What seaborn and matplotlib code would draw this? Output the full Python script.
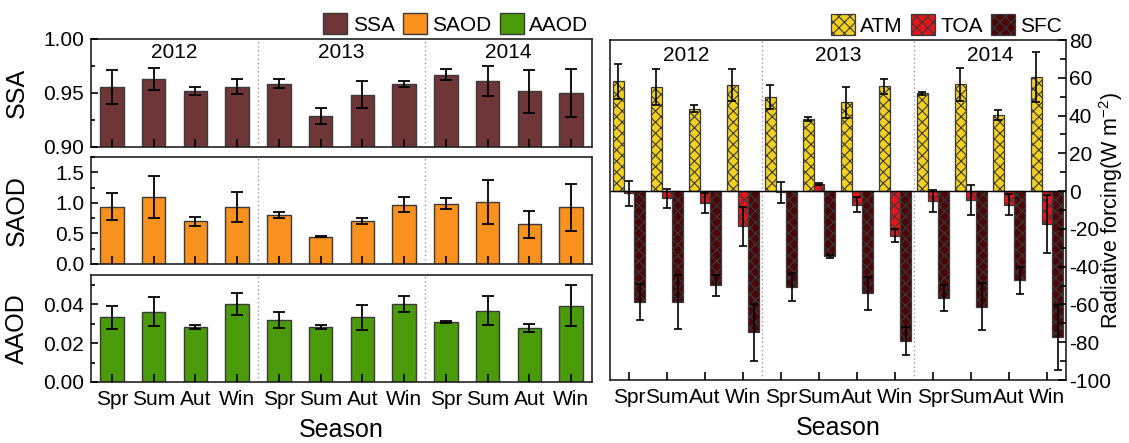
import numpy as np
import pandas as pd
import matplotlib
matplotlib.use("Agg")
import matplotlib.pyplot as plt
import matplotlib.transforms as mtransforms
from matplotlib.patches import Patch
from matplotlib.ticker import MultipleLocator, FormatStrFormatter
import seaborn as sns

# ---- seasonal aerosol optical properties (Spr/Sum/Aut/Win, 2012-2014) ----
years = ["2012", "2013", "2014"]
seasons = ["Spr", "Sum", "Aut", "Win"]

ssa = [0.9556, 0.9627, 0.9515, 0.9559, 0.9586, 0.9284, 0.9485, 0.9583, 0.9670, 0.9608, 0.9515, 0.9500]
ssa_err = [0.016, 0.010, 0.0037, 0.0068, 0.0043, 0.0074, 0.0125, 0.0032, 0.0054, 0.0139, 0.0196, 0.022]
saod = [0.935, 1.098, 0.696, 0.929, 0.804, 0.446, 0.701, 0.973, 0.984, 1.011, 0.647, 0.924]
saod_err = [0.22, 0.34, 0.07, 0.245, 0.05, 0.012, 0.045, 0.125, 0.09, 0.365, 0.22, 0.38]
aaod = [0.0332, 0.0361, 0.0284, 0.0403, 0.0320, 0.0284, 0.0332, 0.0400, 0.0308, 0.0366, 0.0277, 0.0393]
aaod_err = [0.0058, 0.0075, 0.0010, 0.0056, 0.0040, 0.0010, 0.0063, 0.0042, 0.0007, 0.0075, 0.0020, 0.0106]

# ---- aerosol radiative forcing (W m-2) ----
atm = [58.1, 55.2, 43.6, 56.3, 49.9, 38.3, 47.1, 55.6, 51.7, 56.5, 40.1, 60.2]
atm_err = [9.3, 9.7, 1.8, 8.4, 6.4, 1.0, 8.2, 4.0, 0.6, 8.8, 2.6, 13.2]
toa = [-1.1, -3.7, -6.4, -18.7, -0.7, 3.8, -7.1, -23.6, -5.3, -4.9, -7.2, -17.6]
toa_err = [6.7, 5.0, 5.2, 10.2, 5.4, 0.3, 4.1, 3.6, 6.0, 8.0, 5.6, 15.3]
sfc = [-58.9, -58.9, -49.9, -74.8, -50.6, -34.6, -54.2, -79.6, -56.6, -61.2, -47.3, -77.3]
sfc_err = [9.5, 14.3, 5.6, 15.3, 7.5, 0.7, 8.7, 7.4, 6.7, 12.4, 7.2, 17.2]

optical_names = ["SSA", "SAOD", "AAOD"]
forcing_names = ["ATM", "TOA", "SFC"]

optical_colors = ["#6e3637", "#f8911e", "#4b9a09"]
forcing_colors = ["#f3cf1f", "#e6141b", "#4b0608"]
EDGE = "#3a3a3a"

plt.rcParams.update({
    "font.family": ["Liberation Sans", "DejaVu Sans"],
    "axes.unicode_minus": False,
    "mathtext.default": "regular",
    "mathtext.fontset": "custom",
    "mathtext.rm": "Liberation Sans",
    "hatch.linewidth": 0.8,
    "axes.linewidth": 1.2,
    "axes.edgecolor": "#222222",
    "xtick.direction": "in",
    "ytick.direction": "in",
    "axes.axisbelow": False,
})

periods = [f"{y}-{s}" for y in years for s in seasons]
optical = pd.DataFrame({"period": periods, "SSA": ssa, "SAOD": saod, "AAOD": aaod})
optical_err = {"SSA": ssa_err, "SAOD": saod_err, "AAOD": aaod_err}

forcing = pd.DataFrame({
    "period": periods * 3,
    "component": np.repeat(forcing_names, len(periods)),
    "value": atm + toa + sfc,
})
forcing_err = {"ATM": atm_err, "TOA": toa_err, "SFC": sfc_err}

fig = plt.figure(figsize=(11.29, 4.43), dpi=100)
ax_ssa = fig.add_axes([0.0806, 0.6682, 0.4438, 0.2438])
ax_saod = fig.add_axes([0.0806, 0.4041, 0.4438, 0.2415])
ax_aaod = fig.add_axes([0.0806, 0.1377, 0.4438, 0.2415])
ax_rf = fig.add_axes([0.5403, 0.1422, 0.4039, 0.7675])

TICK_FS = 15
LABEL_FS = 18

panels = [
    (ax_ssa, "SSA", optical_colors[0], (0.90, 1.00), 0.05, 0.025, "%.2f"),
    (ax_saod, "SAOD", optical_colors[1], (0.0, 1.75), 0.5, 0.25, "%.1f"),
    (ax_aaod, "AAOD", optical_colors[2], (0.0, 0.055), 0.02, 0.01, "%.2f"),
]

for ax, col, color, ylim, major, minor, fmt in panels:
    sns.barplot(data=optical, x="period", y=col, order=periods, color=color,
                saturation=1, width=0.56, errorbar=None, edgecolor=EDGE,
                linewidth=1.0, ax=ax)
    xs = [p.get_x() + p.get_width() / 2 for p in ax.patches]
    ax.errorbar(xs, optical[col], yerr=optical_err[col], fmt="none",
                ecolor="black", elinewidth=1.3, capsize=4, capthick=1.3, zorder=3)
    for sep in (3.5, 7.5):
        ax.axvline(sep, color="#9a9a9a", ls=(0, (1, 2)), lw=1.0, zorder=0.5)
    ax.set_xlim(-0.5, 11.5)
    ax.set_ylim(*ylim)
    ax.yaxis.set_major_locator(MultipleLocator(major))
    ax.yaxis.set_minor_locator(MultipleLocator(minor))
    ax.yaxis.set_major_formatter(FormatStrFormatter(fmt))
    ax.tick_params(axis="y", which="major", length=5, width=1.2, labelsize=TICK_FS, pad=5)
    ax.tick_params(axis="y", which="minor", length=3, width=1.2)
    ax.tick_params(axis="x", length=6, width=1.2, labelsize=TICK_FS, pad=6)
    ax.set_ylabel(col, fontsize=LABEL_FS)
    ax.yaxis.set_label_coords(-0.124, 0.5)
    ax.set_xlabel("")

for ax in (ax_ssa, ax_saod):
    ax.tick_params(axis="x", labelbottom=False)
ax_aaod.set_xticks(range(len(periods)))
ax_aaod.set_xticklabels(seasons * len(years))
ax_aaod.set_xlabel("Season", fontsize=LABEL_FS, labelpad=6)

# year headers
for ax, ypos in ((ax_ssa, 0.873), (ax_rf, 0.955)):
    trans = mtransforms.blended_transform_factory(ax.transData, ax.transAxes)
    for i, yr in enumerate(years):
        ax.text(4 * i + 1.5, ypos, yr, transform=trans, ha="center", va="center",
                fontsize=TICK_FS)

# ---- radiative forcing panel ----
sns.barplot(data=forcing, x="period", y="value", hue="component", order=periods,
            hue_order=forcing_names, palette=forcing_colors, saturation=1,
            width=0.84, errorbar=None, edgecolor=EDGE, linewidth=0.9,
            legend=False, ax=ax_rf)
for name, cont in zip(forcing_names, ax_rf.containers):
    xs = []
    for bar in cont:
        bar.set_hatch("xxx")
        xs.append(bar.get_x() + bar.get_width() / 2)
    vals = forcing.loc[forcing["component"] == name, "value"].to_numpy()
    ax_rf.errorbar(xs, vals, yerr=forcing_err[name], fmt="none", ecolor="black",
                   elinewidth=1.2, capsize=3, capthick=1.2, zorder=3)
ax_rf.axhline(0, color="black", lw=1.0, zorder=2)
for sep in (3.5, 7.5):
    ax_rf.axvline(sep, color="#9a9a9a", ls=(0, (1, 2)), lw=1.0, zorder=0.5)
ax_rf.set_xlim(-0.5, 11.5)
ax_rf.set_ylim(-100, 80)
ax_rf.yaxis.set_major_locator(MultipleLocator(20))
ax_rf.yaxis.set_minor_locator(MultipleLocator(10))
ax_rf.yaxis.set_major_formatter(FormatStrFormatter("%d"))
ax_rf.tick_params(axis="y", which="both", left=False, right=True,
                  labelleft=False, labelright=True)
ax_rf.tick_params(axis="y", which="major", length=6, width=1.2, labelsize=TICK_FS, pad=2)
ax_rf.tick_params(axis="y", which="minor", length=4, width=1.2)
ax_rf.set_xticks(range(len(periods)))
ax_rf.set_xticklabels(seasons * len(years))
ax_rf.tick_params(axis="x", length=6, width=1.2, labelsize=TICK_FS, pad=6)
ax_rf.set_xlabel("Season", fontsize=LABEL_FS, labelpad=6)
ax_rf.yaxis.set_label_position("right")
ax_rf.set_ylabel("Radiative forcing(W m$^{-2}$)", fontsize=15.5)
ax_rf.yaxis.set_label_coords(1.068, 0.5)

# legends above the panels
opt_handles = [Patch(facecolor=c, edgecolor=EDGE, linewidth=1.0) for c in optical_colors]
ax_ssa.legend(opt_handles, optical_names, loc="lower right", bbox_to_anchor=(1.0, 1.0),
              ncol=3, frameon=False, fontsize=TICK_FS, handlelength=1.15,
              handleheight=1.15, handletextpad=0.25, columnspacing=0.4,
              borderaxespad=0.1, borderpad=0.1)
rf_handles = [Patch(facecolor=c, edgecolor=EDGE, linewidth=0.9, hatch="xxx")
              for c in forcing_colors]
ax_rf.legend(rf_handles, forcing_names, loc="lower right", bbox_to_anchor=(1.0, 1.0),
             ncol=3, frameon=False, fontsize=TICK_FS, handlelength=1.15,
             handleheight=1.15, handletextpad=0.25, columnspacing=0.4,
             borderaxespad=0.1, borderpad=0.1)

fig.savefig("out.png", dpi=100)
